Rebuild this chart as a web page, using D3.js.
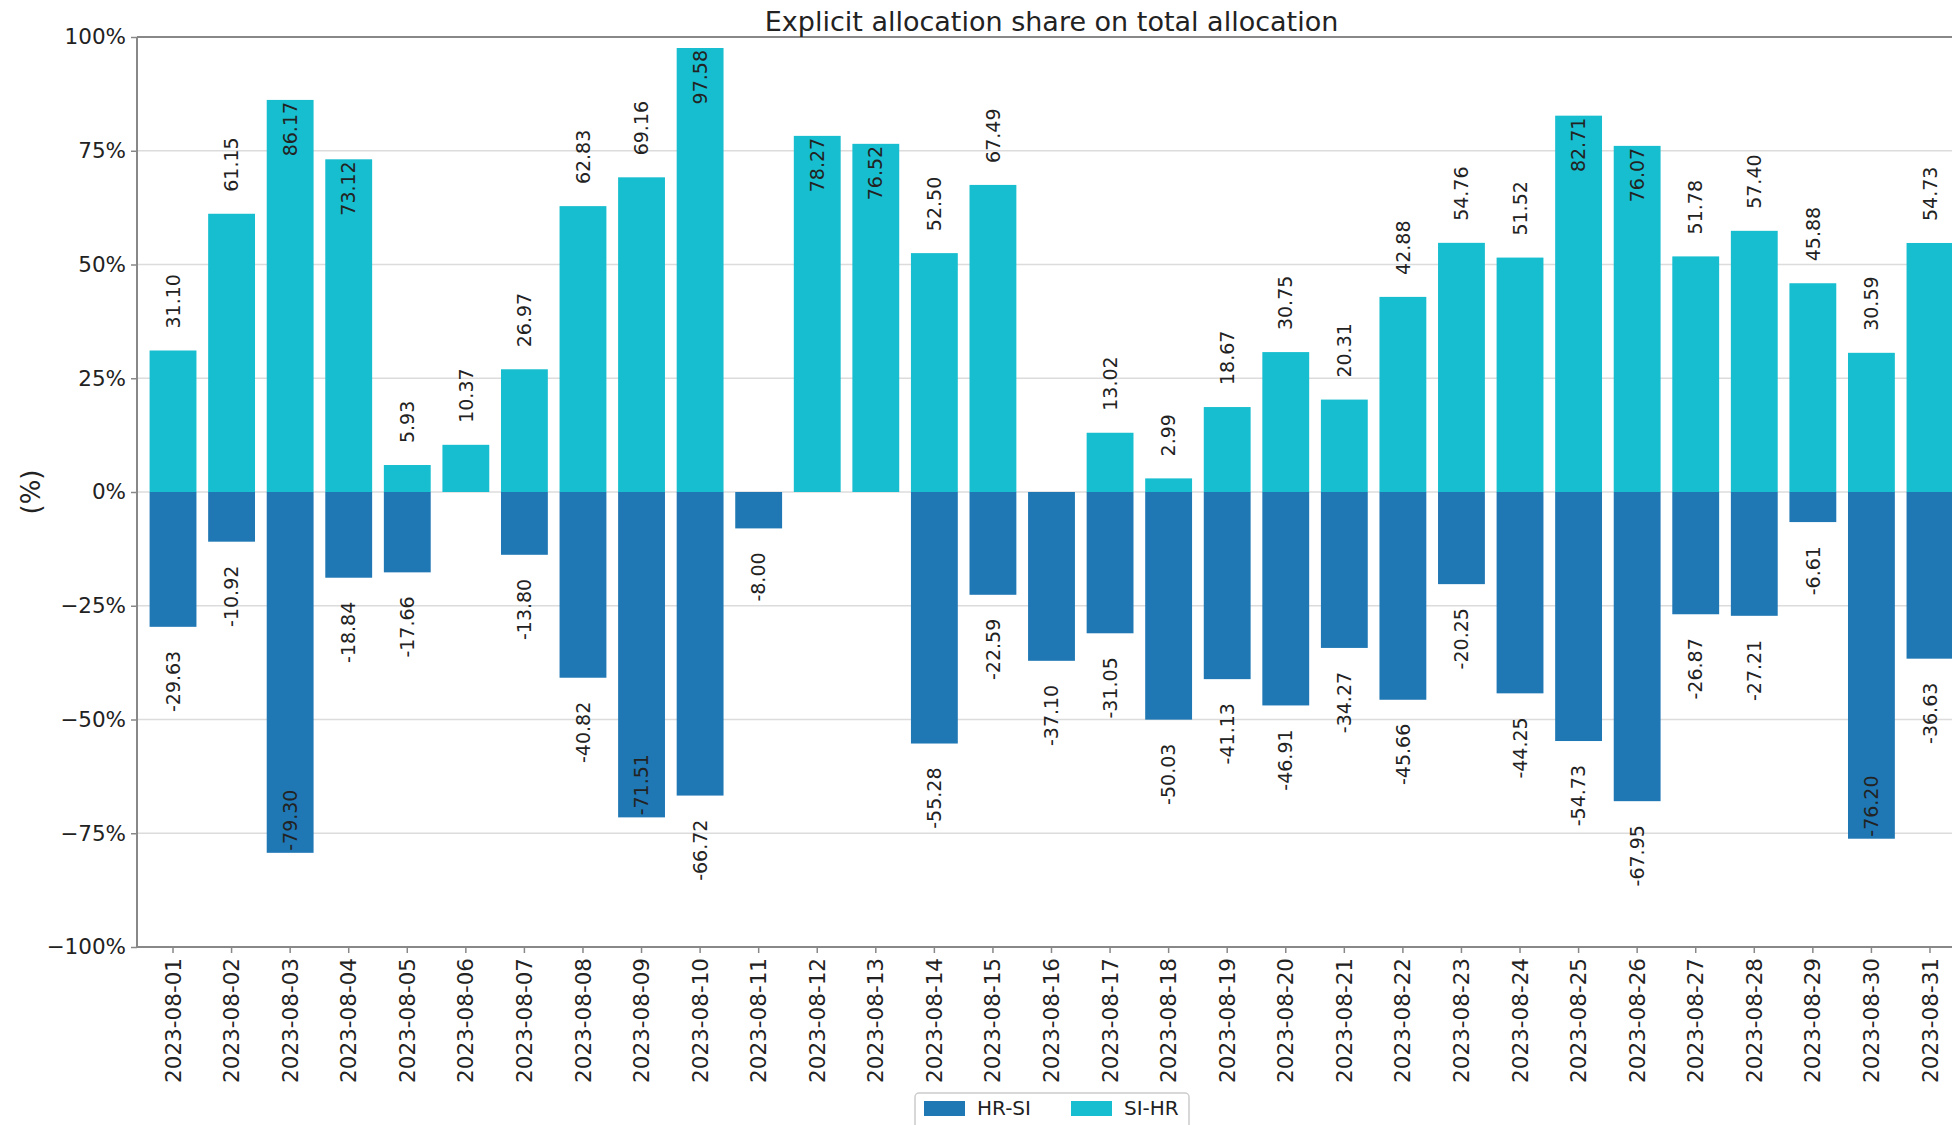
<!DOCTYPE html>
<html><head><meta charset="utf-8">
<script src="https://cdn.jsdelivr.net/npm/d3@7"></script>
<style>body{margin:0;background:#fff}svg{display:block}text{font-family:"DejaVu Sans",sans-serif;fill:#222}</style>
</head><body>
<svg id="c" width="1952" height="1125"></svg>
<script>
const dates = ["2023-08-01","2023-08-02","2023-08-03","2023-08-04","2023-08-05","2023-08-06","2023-08-07","2023-08-08","2023-08-09","2023-08-10","2023-08-11","2023-08-12","2023-08-13","2023-08-14","2023-08-15","2023-08-16","2023-08-17","2023-08-18","2023-08-19","2023-08-20","2023-08-21","2023-08-22","2023-08-23","2023-08-24","2023-08-25","2023-08-26","2023-08-27","2023-08-28","2023-08-29","2023-08-30","2023-08-31"];
const siHr = [31.10,61.15,86.17,73.12,5.93,10.37,26.97,62.83,69.16,97.58,null,78.27,76.52,52.50,67.49,null,13.02,2.99,18.67,30.75,20.31,42.88,54.76,51.52,82.71,76.07,51.78,57.40,45.88,30.59,54.73];
const hrSi = [-29.63,-10.92,-79.30,-18.84,-17.66,null,-13.80,-40.82,-71.51,-66.72,-8.00,null,null,-55.28,-22.59,-37.10,-31.05,-50.03,-41.13,-46.91,-34.27,-45.66,-20.25,-44.25,-54.73,-67.95,-26.87,-27.21,-6.61,-76.20,-36.63];
const yTicks = [-100,-75,-50,-25,0,25,50,75,100];
const seriesNames = ["HR-SI","SI-HR"];
const colors = {"HR-SI":"#1f77b4","SI-HR":"#17becf"};
const title = "Explicit allocation share on total allocation";

const svg = d3.select("#c");
const L = 137, R = 1966, T = 37, B = 947;
const x = d3.scaleBand().domain(dates).range([L, R]).paddingInner(0.2).paddingOuter(0.215);
const y = d3.scaleLinear().domain([-100, 100]).range([B, T]);

// grid
svg.append("g").selectAll("line").data(yTicks).join("line")
  .attr("x1", L).attr("x2", R).attr("y1", d => y(d)).attr("y2", d => y(d))
  .attr("stroke", "#dcdcdc").attr("stroke-width", 1.5);

// bars
function drawSeries(vals, name) {
  const data = dates.map((d, i) => ({d, v: vals[i]})).filter(o => o.v !== null);
  svg.append("g").selectAll("rect").data(data).join("rect")
    .attr("x", o => x(o.d)).attr("width", x.bandwidth())
    .attr("y", o => y(Math.max(0, o.v))).attr("height", o => Math.abs(y(o.v) - y(0)))
    .attr("fill", colors[name]);
  return data;
}
const dHr = drawSeries(hrSi, "HR-SI");
const dSi = drawSeries(siHr, "SI-HR");

// value labels
function labels(data, pos) {
  svg.append("g").selectAll("text").data(data).join("text")
    .attr("transform", o => {
      const cx = x(o.d) + x.bandwidth() / 2;
      let yy, anchor;
      if (pos) {
        if (o.v > 70) { yy = y(o.v) + 2; anchor = "end"; }
        else { yy = y(o.v) - 22; anchor = "start"; }
      } else {
        if (o.v < -70) { yy = y(o.v) - 2; anchor = "start"; }
        else { yy = y(o.v) + 24; anchor = "end"; }
      }
      o.anchor = anchor;
      return `translate(${cx},${yy}) rotate(-90)`;
    })
    .attr("text-anchor", o => o.anchor)
    .attr("dy", "0.35em")
    .attr("font-size", 19)
    .text(o => o.v.toFixed(2));
}
labels(dSi, true);
labels(dHr, false);

// axes
const yAxis = d3.axisLeft(y).tickValues(yTicks).tickSize(6).tickPadding(5)
  .tickFormat(d => (d < 0 ? "\u2212" + Math.abs(d) : d) + "%");
const gy = svg.append("g").attr("transform", `translate(${L},0)`).call(yAxis);
gy.select(".domain").remove();
gy.selectAll("line").attr("stroke", "#888").attr("stroke-width", 1.5);
gy.selectAll("text").attr("font-size", 21.5).attr("fill", "#222").style("font-family", "DejaVu Sans");

const xAxis = d3.axisBottom(x).tickSize(6).tickPadding(4);
const gx = svg.append("g").attr("transform", `translate(0,${B})`).call(xAxis);
gx.select(".domain").remove();
gx.selectAll("line").attr("stroke", "#888").attr("stroke-width", 1.5);
gx.selectAll("text").attr("font-size", 21.5).attr("fill", "#222").style("font-family", "DejaVu Sans")
  .attr("transform", "rotate(-90)").attr("text-anchor", "end")
  .attr("x", -11).attr("y", 0).attr("dy", "0.35em");

// spines
svg.append("line").attr("x1", L).attr("x2", L).attr("y1", T).attr("y2", B).attr("stroke", "#888").attr("stroke-width", 2);
svg.append("line").attr("x1", L).attr("x2", R).attr("y1", B).attr("y2", B).attr("stroke", "#888").attr("stroke-width", 2);
svg.append("line").attr("x1", L).attr("x2", R).attr("y1", T).attr("y2", T).attr("stroke", "#888").attr("stroke-width", 2);

// title
svg.append("text").attr("x", (L + R) / 2).attr("y", 31).attr("text-anchor", "middle")
  .attr("font-size", 27).text(title);

// y label
svg.append("text").attr("transform", `translate(40,${y(0)}) rotate(-90)`).attr("text-anchor", "middle")
  .attr("font-size", 26).text("(%)");

// legend
const lg = svg.append("g");
lg.append("rect").attr("x", 915).attr("y", 1093).attr("width", 274).attr("height", 45).attr("rx", 4)
  .attr("fill", "#fff").attr("stroke", "#ccc").attr("stroke-width", 1.5);
const lx = [924, 1071];
seriesNames.forEach((n, i) => {
  lg.append("rect").attr("x", lx[i]).attr("y", 1101).attr("width", 41).attr("height", 15).attr("fill", colors[n]);
  lg.append("text").attr("x", lx[i] + 53).attr("y", 1108).attr("dy", "0.35em").attr("font-size", 20).text(n);
});
</script>
</body></html>
